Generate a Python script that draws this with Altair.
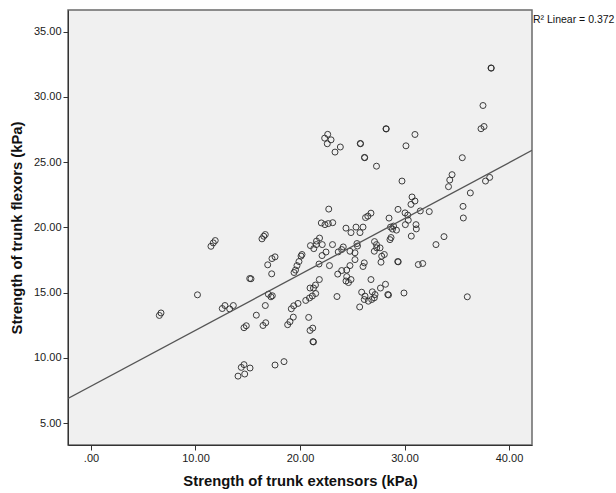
import altair as alt
import pandas as pd

# Strength of trunk extensors (kPa)
extensors = [
    6.54, 6.70, 10.19, 11.48, 11.70, 11.89, 12.56, 12.82, 13.27, 13.62,
    14.07, 14.38, 14.64, 14.71, 15.22, 17.61, 18.47, 14.64, 14.86, 15.82,
    16.46, 16.72, 16.68, 15.19, 15.31, 16.36, 16.53, 16.68, 17.32, 17.61,
    16.91, 17.29, 16.97, 17.22, 17.35, 18.82, 19.04, 19.36, 19.17, 19.40,
    19.81, 20.55, 19.43, 19.57, 19.71, 19.90, 20.10, 20.19, 20.83, 20.96,
    21.22, 21.24, 21.29, 20.91, 21.18, 21.50, 20.96, 21.29, 21.48, 21.85,
    21.00, 21.32, 21.56, 21.58, 21.87, 22.13, 21.82, 22.11, 22.49, 22.82,
    23.11, 22.04, 22.39, 22.71, 23.13, 22.75, 23.54, 23.61, 24.40, 24.88,
    25.36, 25.74, 26.03, 26.27, 26.49, 26.79, 25.45, 25.50, 27.13, 27.32,
    23.66, 23.99, 24.14, 24.78, 25.26, 27.34, 27.11, 27.66, 27.82, 28.07,
    27.75, 28.61, 28.52, 29.38, 30.05, 30.31, 31.51, 32.37, 28.66, 28.85,
    28.95, 29.23, 28.71, 30.08, 30.36, 31.10, 31.13, 30.65, 30.72, 31.00,
    30.62, 29.35, 29.40, 29.76, 27.32, 25.26, 26.15, 26.03, 24.78, 23.99,
    24.47, 24.47, 24.40, 24.64, 24.88, 26.79, 28.18, 27.70, 28.40, 28.47,
    29.95, 25.90, 26.22, 26.92, 27.18, 26.86, 26.54, 26.15, 27.11, 25.71,
    31.32, 31.74, 33.01, 33.78, 36.01, 22.65, 22.36, 22.97, 22.61, 23.86,
    23.35, 25.77, 25.79, 26.17, 26.19, 28.23, 28.25, 30.14, 31.00, 38.28,
    38.30, 37.51, 37.32, 37.61, 35.53, 34.55, 34.33, 34.21, 36.30, 38.15,
    37.75, 35.60, 35.63,
]

# Strength of trunk flexors (kPa)
flexors = [
    13.25, 13.44, 14.83, 18.55, 18.81, 18.99, 13.78, 14.01, 13.75, 14.01,
    8.60, 9.27, 9.48, 8.76, 9.22, 9.45, 9.71, 12.31, 12.46, 13.27,
    12.48, 12.69, 14.01, 16.08, 16.06, 19.12, 19.32, 19.45, 17.61, 17.74,
    17.13, 16.44, 14.88, 14.68, 14.76, 12.54, 12.77, 13.12, 13.76, 13.99,
    14.17, 14.40, 16.54, 16.73, 17.07, 17.38, 17.80, 17.92, 13.10, 12.10,
    12.28, 11.24, 11.22, 14.59, 14.74, 14.93, 15.35, 15.35, 15.58, 16.00,
    18.60, 18.37, 18.68, 18.95, 19.18, 18.68, 17.19, 17.84, 18.11, 17.07,
    18.68, 20.34, 20.21, 20.29, 20.36, 21.40, 14.70, 16.42, 19.94, 19.60,
    20.02, 19.60, 20.02, 20.75, 20.86, 21.09, 18.76, 18.57, 18.91, 18.68,
    18.12, 18.30, 18.50, 18.17, 18.05, 18.43, 18.17, 18.43, 17.79, 17.92,
    17.33, 19.06, 20.71, 21.38, 21.11, 20.94, 21.26, 21.21, 20.02, 19.87,
    20.10, 19.79, 19.22, 20.21, 20.55, 20.21, 19.88, 19.33, 22.33, 22.02,
    21.76, 17.38, 17.36, 23.55, 24.69, 17.53, 17.28, 17.00, 17.07, 16.69,
    16.73, 16.23, 15.89, 15.77, 16.00, 16.00, 15.64, 15.35, 14.85, 14.82,
    14.97, 15.03, 14.73, 15.06, 14.85, 14.47, 14.34, 14.47, 14.60, 13.90,
    17.15, 17.23, 18.68, 19.29, 14.68, 27.13, 26.84, 26.71, 26.41, 26.16,
    25.77, 26.43, 26.41, 25.36, 25.34, 27.56, 27.54, 26.25, 27.12, 32.22,
    32.20, 29.34, 27.56, 27.73, 25.34, 24.04, 23.63, 23.12, 22.64, 23.83,
    23.55, 21.61, 20.72,
]

x_ticks = [0, 10, 20, 30, 40]
y_ticks = [5, 10, 15, 20, 25, 30, 35]
x_domain = [-2.2, 42.2]
y_domain = [3.32, 36.66]
r2_label = "R² Linear = 0.372"
x_title = "Strength of trunk extensors (kPa)"
y_title = "Strength of trunk flexors (kPa)"

df = pd.DataFrame({"ext": extensors, "flex": flexors})
lab = pd.DataFrame({"label": [r2_label]})

FONT = "Liberation Sans"
label_expr = "datum.value == 0 ? '.00' : format(datum.value, '.2f')"

xenc = alt.X(
    "ext:Q",
    scale=alt.Scale(domain=x_domain, nice=False, zero=False),
    axis=alt.Axis(values=x_ticks, labelExpr=label_expr, title=x_title,
                  titlePadding=10),
)
yenc = alt.Y(
    "flex:Q",
    scale=alt.Scale(domain=y_domain, nice=False, zero=False),
    axis=alt.Axis(values=y_ticks, labelExpr=label_expr, title=y_title,
                  titlePadding=9),
)

points = alt.Chart(df).mark_point(
    shape="circle", filled=False, size=36, stroke="#2a2a2a",
    strokeWidth=1.0, opacity=0.9,
).encode(x=xenc, y=yenc)

fit = alt.Chart(df).transform_regression(
    "ext", "flex", extent=x_domain
).mark_line(color="#555555", strokeWidth=1.3, clip=True).encode(
    x=alt.X("ext:Q"), y=alt.Y("flex:Q")
)

r2 = alt.Chart(lab).mark_text(
    align="left", baseline="middle", font=FONT, fontSize=10.5, color="#111111"
).encode(text="label:N", x=alt.value(465), y=alt.value(10))

chart = alt.layer(points, fit, r2).properties(
    width=464, height=435,
    autosize=alt.AutoSizeParams(type="none"),
    padding={"left": 68, "top": 10, "right": 84, "bottom": 48},
    background="white",
).configure_view(
    fill="#F0F0F0", stroke="#6a6a6a", strokeWidth=1.5,
).configure_axis(
    grid=False, domainColor="#333333", domainWidth=1,
    tickColor="#333333", tickSize=5, tickWidth=1,
    labelFont=FONT, labelFontSize=11, labelColor="#1a1a1a", labelPadding=2,
    titleFont=FONT, titleFontSize=14.8, titleFontWeight="bold", titleColor="#111111",
)

chart.save("out.html", embed_options={"renderer": "svg", "actions": False})
